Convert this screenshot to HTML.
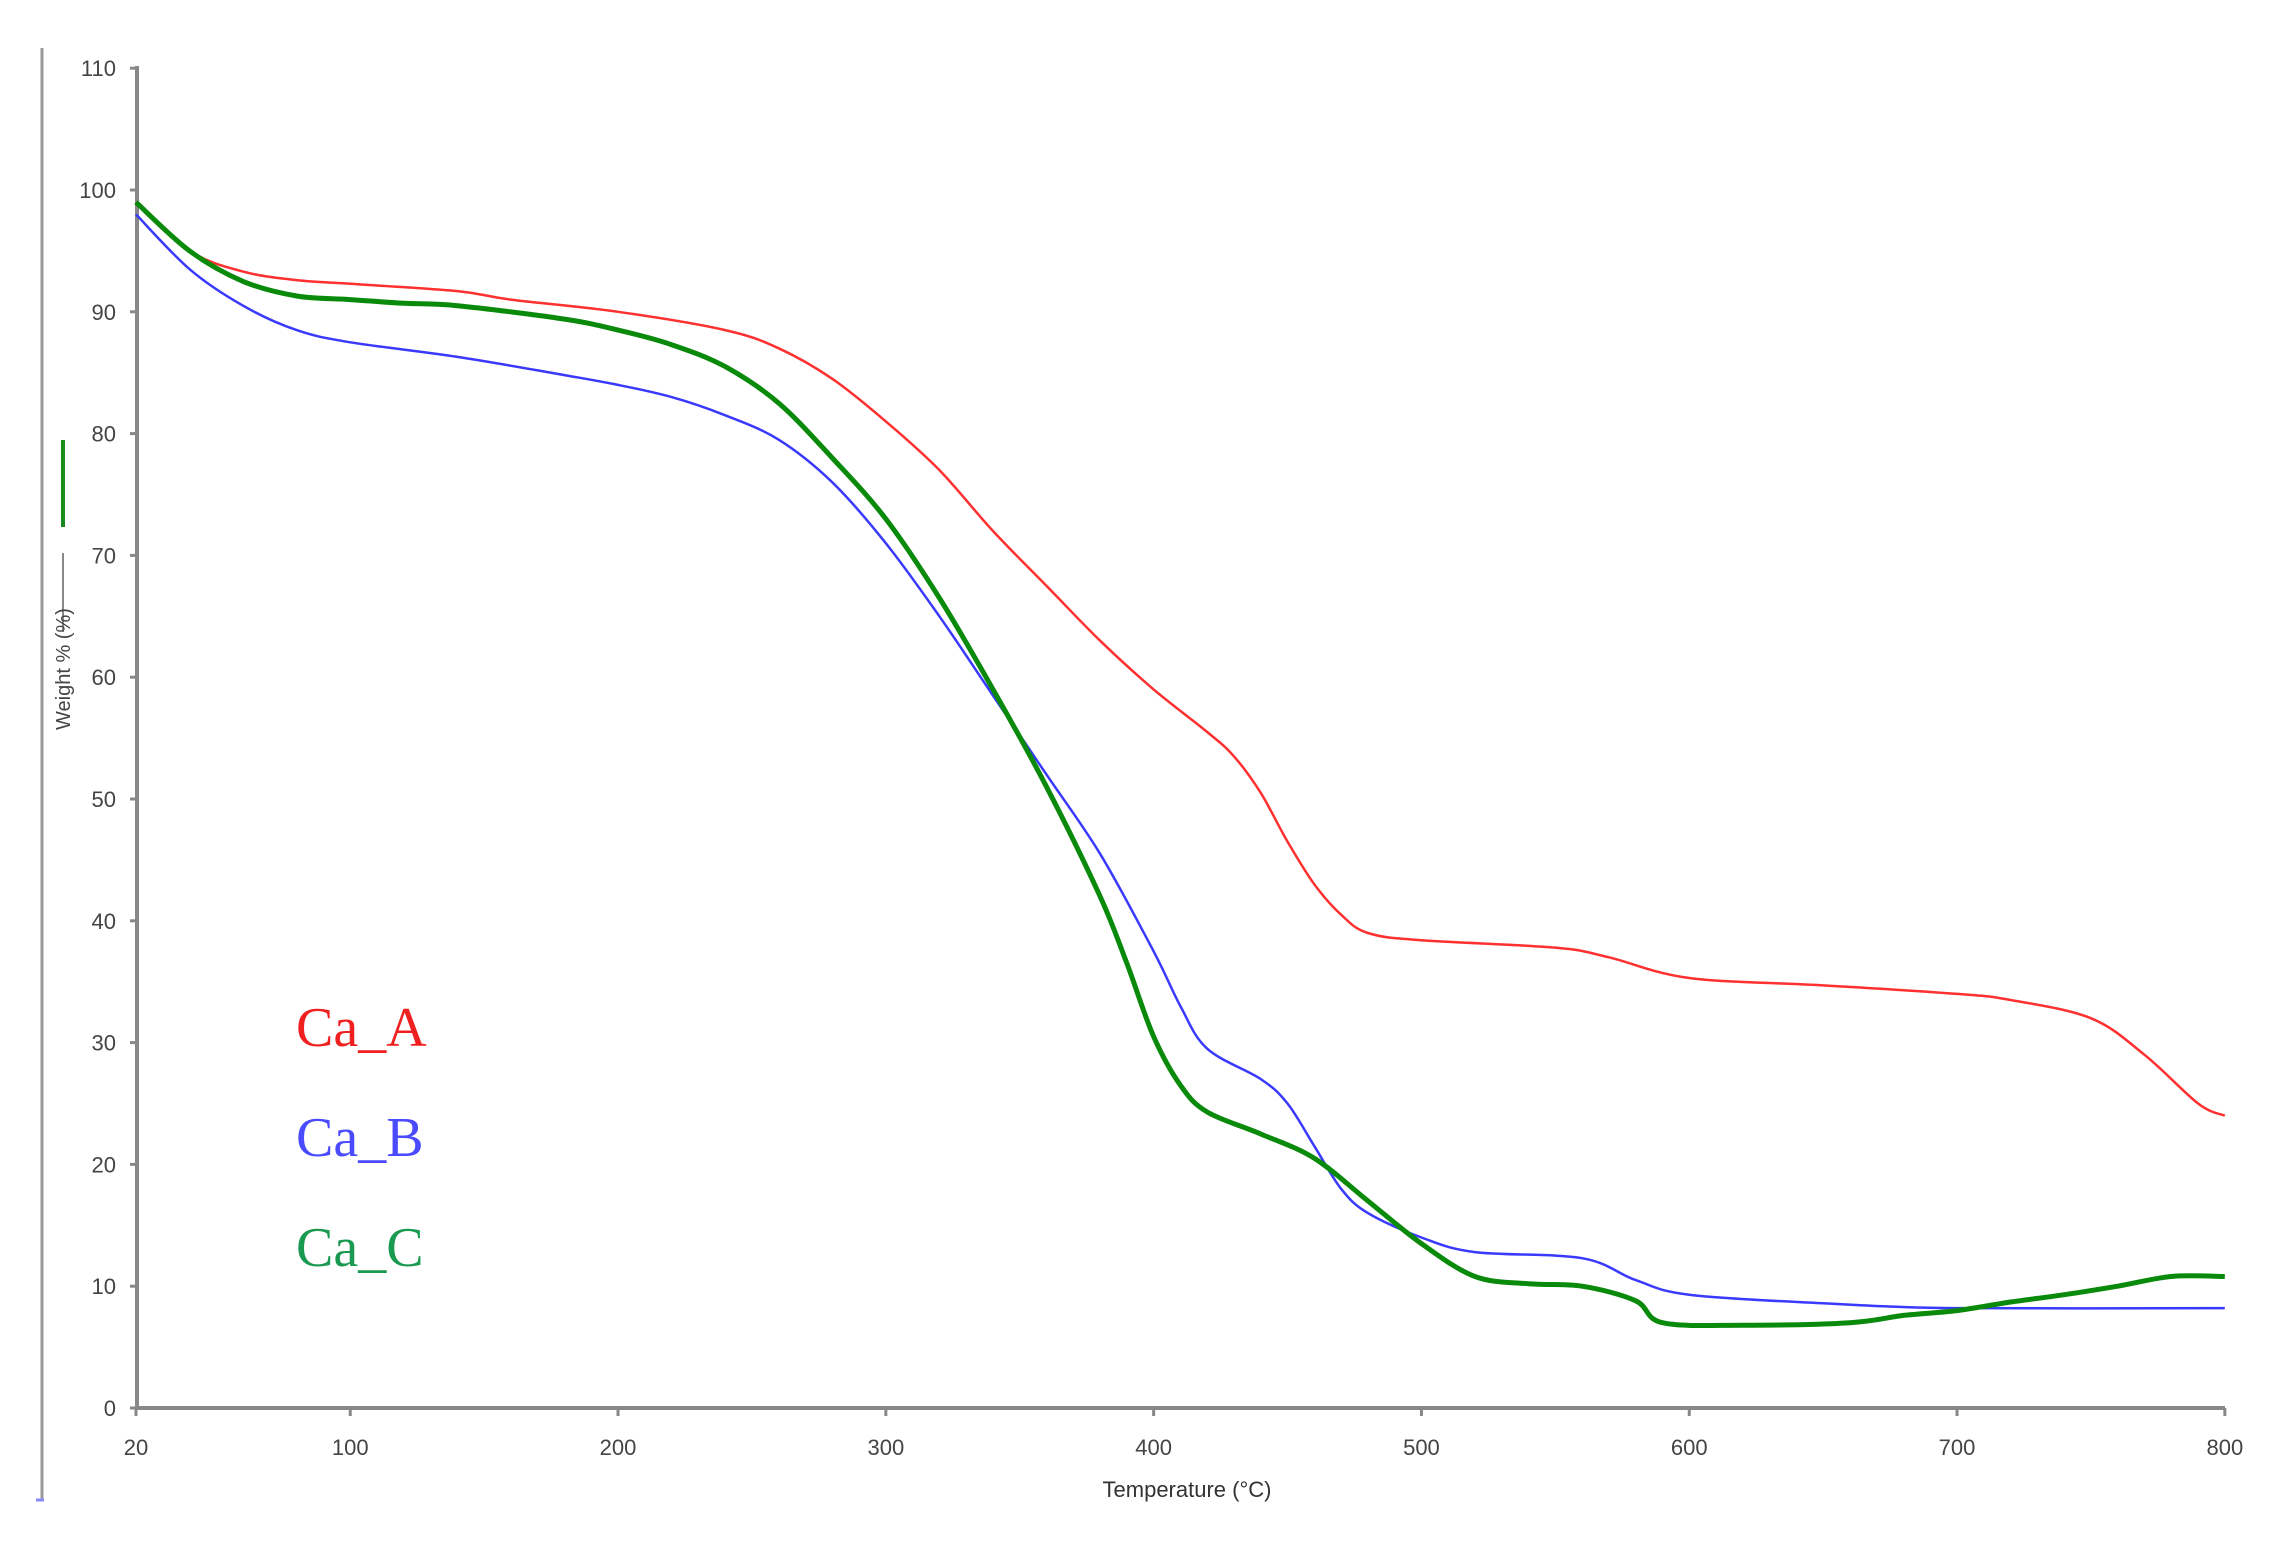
<!DOCTYPE html>
<html><head><meta charset="utf-8"><style>
html,body{margin:0;padding:0;background:#fff;}
svg{display:block;}
</style></head><body>
<svg id="c" width="2281" height="1566" xmlns="http://www.w3.org/2000/svg" font-family="Liberation Sans, sans-serif">
<line x1="42" y1="48" x2="42" y2="1500" stroke="#999" stroke-width="3"/>
<line x1="36" y1="1500" x2="44" y2="1500" stroke="#88f" stroke-width="3"/>
<line x1="63" y1="440" x2="63" y2="527" stroke="#1a8a1a" stroke-width="4"/>
<line x1="63" y1="553" x2="63" y2="632" stroke="#888" stroke-width="2"/>
<text transform="translate(70,730) rotate(-90)" font-size="20" fill="#444">Weight % (%)</text>
<g id="ax"></g>
<text x="1187" y="1497" font-size="22" fill="#333" text-anchor="middle">Temperature (°C)</text>
<text x="296" y="1046" font-family="Liberation Serif, serif" font-size="56" fill="#f02020">Ca_A</text>
<text x="296" y="1156" font-family="Liberation Serif, serif" font-size="56" fill="#4a4aff">Ca_B</text>
<text x="296" y="1266" font-family="Liberation Serif, serif" font-size="56" fill="#1a9a50">Ca_C</text>
</svg>
<script>
var X=function(t){return 136+(t-20)*2.678;},Y=function(v){return 1408-v*12.18;};
var ns="http://www.w3.org/2000/svg",svg=document.getElementById('c'),ax=document.getElementById('ax');
function el(n,a,p){var e=document.createElementNS(ns,n);for(var k in a)e.setAttribute(k,a[k]);(p||svg).appendChild(e);return e;}
el('line',{x1:137,y1:66,x2:137,y2:1410,stroke:'#888','stroke-width':4},ax);
el('line',{x1:135,y1:1408,x2:2225,y2:1408,stroke:'#888','stroke-width':4},ax);
for(var v=0;v<=110;v+=10){var y=Y(v);el('line',{x1:130,y1:y,x2:137,y2:y,stroke:'#888','stroke-width':3},ax);
var t=el('text',{x:116,y:y+8,'font-size':22,fill:'#444','text-anchor':'end'},ax);t.textContent=v;}
var xt=[20,100,200,300,400,500,600,700,800];
xt.forEach(function(t){var x=X(t);el('line',{x1:x,y1:1408,x2:x,y2:1416,stroke:'#888','stroke-width':3},ax);
var tx=el('text',{x:x,y:1455,'font-size':22,fill:'#444','text-anchor':'middle'},ax);tx.textContent=t;});
function path(d,c,w){var p=[];for(var i=0;i<d.length;i+=2)p.push([X(d[i]),Y(d[i+1])]);
var s='M'+p[0][0].toFixed(1)+' '+p[0][1].toFixed(1);
for(var i=0;i<p.length-1;i++){var p0=p[i?i-1:0],p1=p[i],p2=p[i+1],p3=p[i+2<p.length?i+2:i+1];
var c1=[p1[0]+(p2[0]-p0[0])/6,p1[1]+(p2[1]-p0[1])/6],c2=[p2[0]-(p3[0]-p1[0])/6,p2[1]-(p3[1]-p1[1])/6];
s+='C'+c1[0].toFixed(1)+' '+c1[1].toFixed(1)+' '+c2[0].toFixed(1)+' '+c2[1].toFixed(1)+' '+p2[0].toFixed(1)+' '+p2[1].toFixed(1);}
el('path',{d:s,fill:'none',stroke:c,'stroke-width':w,'stroke-linejoin':'round'});}
path([20,99,40,95,60,93.3,80,92.6,100,92.3,140,91.7,160,91,200,90,240,88.5,260,87,280,84.5,300,81,320,77,340,72,360,67.5,380,63,400,59,420,55.5,430,53.5,440,50.5,450,46.5,460,43,470,40.5,480,39,500,38.4,550,37.8,570,37,600,35.3,650,34.7,700,34,720,33.5,750,32,770,29,790,25,800,24],'#ff3030',2.5);
path([20,98,40,93.5,60,90.5,80,88.5,100,87.5,140,86.3,180,84.8,200,84,220,83,240,81.5,260,79.5,280,76,300,71,320,65,340,58.5,360,52,380,45.5,400,37.5,410,33,420,29.5,440,27,450,25,460,21.5,470,18,480,16,500,14,520,12.8,560,12.3,580,10.5,600,9.3,650,8.6,700,8.2,800,8.2],'#3a3aff',2.5);
path([20,99,40,95,60,92.5,80,91.3,100,91,120,90.7,140,90.5,180,89.4,200,88.5,220,87.3,240,85.5,260,82.5,280,78,300,73,320,66.5,340,59,360,51,380,42,390,36.5,400,30.5,410,26.5,420,24.3,440,22.5,460,20.5,480,17,500,13.5,520,10.8,540,10.2,560,10,580,8.8,590,7,620,6.8,660,7,680,7.6,700,8,720,8.7,740,9.3,760,10,780,10.8,800,10.8],'#0a8a0a',5);
</script>
</body></html>
